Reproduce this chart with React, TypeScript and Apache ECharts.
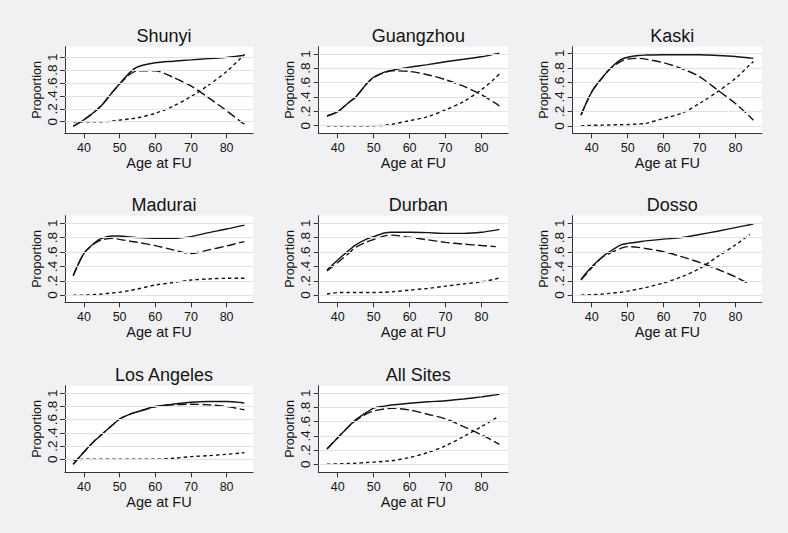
import React, { useEffect, useRef } from "react";
import * as echarts from "echarts";

// ---------- data ----------
const AGES = [37, 40, 43, 45, 48, 50, 53, 55, 60, 65, 70, 75, 80, 84, 85];
const SITES = ["Shunyi", "Guangzhou", "Kaski", "Madurai", "Durban", "Dosso", "Los Angeles", "All Sites"];
const X_TICKS = [40, 50, 60, 70, 80];
const Y_TICKS = [0, 0.2, 0.4, 0.6, 0.8, 1];
const Y_TICK_LABELS = ["0", ".2", ".4", ".6", ".8", "1"];
const X_TITLE = "Age at FU";
const Y_TITLE = "Proportion";

const shunyiSolid = [-0.07, 0.03, 0.155, 0.255, 0.46, 0.59, 0.77, 0.85, 0.915, 0.94, 0.96, 0.98, 1.0, 1.025, 1.03];
const shunyiLong = [-0.07, 0.03, 0.155, 0.255, 0.46, 0.58, 0.74, 0.79, 0.79, 0.69, 0.555, 0.37, 0.17, 0.0, -0.04];
const shunyiShort = [0.0, 0.0, 0.0, 0.0, 0.01, 0.025, 0.045, 0.06, 0.13, 0.24, 0.39, 0.57, 0.78, 0.99, 1.05];

const guangzhouSolid = [0.135, 0.195, 0.32, 0.4, 0.58, 0.675, 0.745, 0.77, 0.815, 0.85, 0.89, 0.925, 0.96, 1.0, 1.01];
const guangzhouLong = [0.135, 0.195, 0.32, 0.4, 0.58, 0.67, 0.74, 0.765, 0.755, 0.71, 0.64, 0.55, 0.43, 0.31, 0.275];
const guangzhouShort = [0, 0, 0, 0, 0, 0, 0.005, 0.02, 0.07, 0.125, 0.22, 0.335, 0.5, 0.67, 0.72];

const kaskiSolid = [0.15, 0.47, 0.67, 0.785, 0.91, 0.945, 0.97, 0.975, 0.98, 0.98, 0.98, 0.97, 0.955, 0.935, 0.93];
const kaskiLong = [0.15, 0.47, 0.665, 0.78, 0.885, 0.92, 0.93, 0.92, 0.87, 0.79, 0.68, 0.495, 0.31, 0.13, 0.08];
const kaskiShort = [0, 0.01, 0.012, 0.015, 0.018, 0.02, 0.028, 0.035, 0.105, 0.175, 0.31, 0.47, 0.655, 0.84, 0.885];

const maduraiSolid = [0.27, 0.58, 0.73, 0.79, 0.823, 0.823, 0.81, 0.8, 0.79, 0.79, 0.815, 0.87, 0.92, 0.965, 0.975];
const maduraiLong = [0.27, 0.58, 0.72, 0.77, 0.79, 0.777, 0.75, 0.735, 0.69, 0.63, 0.58, 0.63, 0.685, 0.735, 0.745];
const maduraiShort = [0, 0, 0.008, 0.015, 0.03, 0.04, 0.065, 0.085, 0.14, 0.175, 0.21, 0.225, 0.235, 0.235, 0.235];

const durbanSolid = [0.35, 0.49, 0.62, 0.7, 0.78, 0.815, 0.865, 0.875, 0.875, 0.87, 0.86, 0.86, 0.875, 0.905, 0.915];
const durbanLong = [0.335, 0.455, 0.58, 0.665, 0.74, 0.775, 0.825, 0.835, 0.805, 0.77, 0.735, 0.71, 0.69, 0.675, null];
const durbanShort = [0.015, 0.035, 0.036, 0.037, 0.037, 0.037, 0.04, 0.045, 0.07, 0.093, 0.125, 0.155, 0.185, 0.225, 0.24];

const dossoSolid = [0.22, 0.395, 0.535, 0.605, 0.695, 0.72, 0.74, 0.755, 0.78, 0.8, 0.845, 0.89, 0.94, 0.98, 0.99];
const dossoLong = [0.21, 0.38, 0.53, 0.58, 0.65, 0.675, 0.665, 0.65, 0.605, 0.535, 0.455, 0.36, 0.255, 0.15, null];
const dossoShort = [0, 0.005, 0.015, 0.025, 0.04, 0.055, 0.085, 0.105, 0.17, 0.255, 0.37, 0.535, 0.7, 0.845, null];

const losAngelesSolid = [-0.075, 0.11, 0.28, 0.375, 0.52, 0.61, 0.685, 0.72, 0.8, 0.835, 0.865, 0.875, 0.875, 0.86, 0.85];
const losAngelesLong = [-0.075, 0.11, 0.28, 0.375, 0.52, 0.61, 0.685, 0.72, 0.795, 0.825, 0.835, 0.825, 0.8, 0.76, 0.75];
const losAngelesShort = [-0.01, 0, 0, 0, 0, 0, 0, 0, 0, 0.015, 0.04, 0.055, 0.075, 0.095, 0.1];

const allSitesSolid = [0.215, 0.375, 0.53, 0.625, 0.73, 0.79, 0.82, 0.835, 0.86, 0.88, 0.895, 0.92, 0.95, 0.978, 0.985];
const allSitesLong = [0.215, 0.375, 0.53, 0.615, 0.71, 0.75, 0.78, 0.79, 0.765, 0.705, 0.64, 0.53, 0.415, 0.31, 0.28];
const allSitesShort = [0, 0.005, 0.01, 0.015, 0.025, 0.03, 0.042, 0.05, 0.095, 0.165, 0.26, 0.39, 0.53, 0.65, 0.68];

const SOLID = [shunyiSolid, guangzhouSolid, kaskiSolid, maduraiSolid, durbanSolid, dossoSolid, losAngelesSolid, allSitesSolid];
const LONG = [shunyiLong, guangzhouLong, kaskiLong, maduraiLong, durbanLong, dossoLong, losAngelesLong, allSitesLong];
const SHORT = [shunyiShort, guangzhouShort, kaskiShort, maduraiShort, durbanShort, dossoShort, losAngelesShort, allSitesShort];

// ---------- layout ----------
const COL_LEFT = [65, 318.7, 572.7];
const COL_WIDTH = [188, 189.3, 189.3];
const ROW_TOP = [46.7, 215.7, 385.7];
const PLOT_H = 86.6;
const TITLE_TOP = [22, 191, 361];
const X_MIN = 34.7;
const X_MAX = 87.4;
const Y_MIN = [-0.18, -0.106, -0.1, -0.1, -0.1, -0.1, -0.197, -0.113];
const Y_MAX = [1.165, 1.1, 1.09, 1.106, 1.106, 1.106, 1.115, 1.107];

const FONT = "'Liberation Sans', Arial, Helvetica, sans-serif";
const INK = "#141414";
const AXIS = "#333333";
const BG = "#F1F1F3";

const pair = (ys: (number | null)[]) => AGES.map((a, i) => [a, ys[i]]);

export default function App() {
  const ref = useRef<HTMLDivElement>(null);
  useEffect(() => {
    document.body.style.margin = "0";
    if (!ref.current) return;
    const chart = echarts.init(ref.current, undefined, { renderer: "svg" });
    const grids: any[] = [];
    const xAxes: any[] = [];
    const yAxes: any[] = [];
    const titles: any[] = [];
    const series: any[] = [];
    SITES.forEach((site, i) => {
      const r = Math.floor(i / 3);
      const c = i % 3;
      grids.push({
        left: COL_LEFT[c],
        top: ROW_TOP[r],
        width: COL_WIDTH[c],
        height: PLOT_H,
        show: true,
        backgroundColor: "#ffffff",
        borderWidth: 0,
      });
      titles.push({
        text: site,
        left: COL_LEFT[c] + COL_WIDTH[c] / 2,
        top: TITLE_TOP[r],
        textAlign: "center",
        textStyle: { fontFamily: FONT, fontSize: 18, fontWeight: "normal", color: INK },
      });
      xAxes.push({
        gridIndex: i,
        type: "value",
        min: X_MIN,
        max: X_MAX,
        axisLine: { show: true, onZero: false, lineStyle: { color: AXIS, width: 1 } },
        axisTick: { show: true, length: 5, customValues: X_TICKS, lineStyle: { color: AXIS } },
        axisLabel: { customValues: X_TICKS, fontFamily: FONT, fontSize: 12.5, color: INK, margin: 8 },
        splitLine: { show: false },
        name: X_TITLE,
        nameLocation: "middle",
        nameGap: 16,
        nameTextStyle: { fontFamily: FONT, fontSize: 14.5, color: INK },
      });
      yAxes.push({
        gridIndex: i,
        type: "value",
        min: Y_MIN[i],
        max: Y_MAX[i],
        axisLine: { show: true, onZero: false, lineStyle: { color: AXIS, width: 1 } },
        axisTick: { show: true, length: 5, customValues: Y_TICKS, lineStyle: { color: AXIS } },
        axisLabel: {
          customValues: Y_TICKS,
          rotate: 90,
          fontFamily: FONT,
          fontSize: 13.5,
          color: INK,
          margin: 6,
          formatter: (v: number) => Y_TICK_LABELS[Math.round(v * 5)] ?? "",
        },
        splitLine: { show: false },
        name: Y_TITLE,
        nameLocation: "middle",
        nameGap: 22,
        nameTextStyle: { fontFamily: FONT, fontSize: 12.5, color: INK },
      });
      // gridlines
      series.push({
        type: "line",
        xAxisIndex: i,
        yAxisIndex: i,
        data: pair(SOLID[i]),
        lineStyle: { opacity: 0 },
        showSymbol: false,
        symbol: "none",
        silent: true,
        z: 1,
        markLine: {
          silent: true,
          symbol: ["none", "none"],
          label: { show: false },
          lineStyle: { color: "#E2E2E6", type: "solid", width: 1 },
          data: Y_TICKS.map((v) => ({ yAxis: v })),
          animation: false,
        },
      });
      const styles: any[] = [
        { d: SOLID[i], type: "solid" },
        { d: LONG[i], type: [9, 3.5] },
        { d: SHORT[i], type: [3.5, 3] },
      ];
      styles.forEach((s) => {
        series.push({
          type: "line",
          xAxisIndex: i,
          yAxisIndex: i,
          data: pair(s.d),
          smooth: 0.3,
          showSymbol: false,
          symbol: "none",
          connectNulls: false,
          z: 3,
          lineStyle: { color: INK, width: 1.4, type: s.type },
        });
      });
    });
    chart.setOption({
      animation: false,
      backgroundColor: BG,
      title: titles,
      grid: grids,
      xAxis: xAxes,
      yAxis: yAxes,
      series,
    });
    return () => chart.dispose();
  }, []);
  return <div ref={ref} style={{ width: 788, height: 533, background: BG }} />;
}
